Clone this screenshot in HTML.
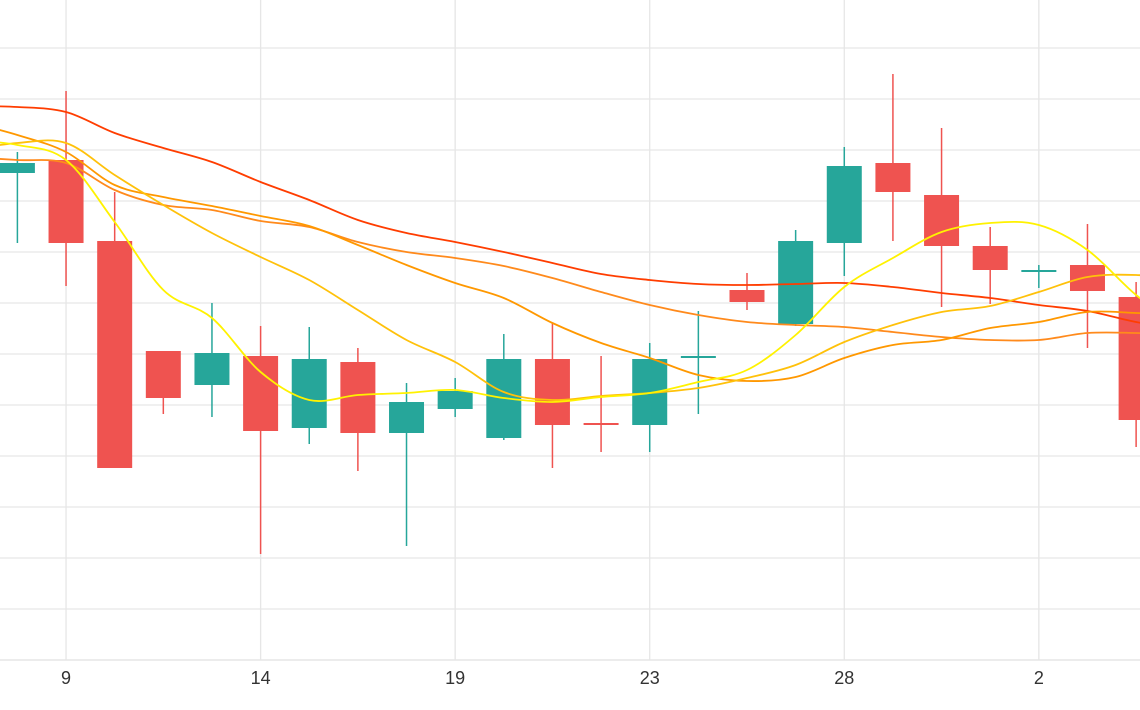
<!DOCTYPE html>
<html><head><meta charset="utf-8">
<style>
html,body{margin:0;padding:0;background:#fff;}
svg{display:block;font-family:"Liberation Sans",sans-serif;}
</style></head>
<body>
<svg id="chart" width="1140" height="710" viewBox="0 0 1140 710">
<g id="grid"></g>
<g id="candles"></g>
<g id="lines"></g>
<g id="xaxis"></g>
</svg>
<script>
const tickIndex = [1, 5, 9, 13, 17, 21];
const tickLabels = ["9", "14", "19", "23", "28", "2"];
const opens  = [48.7,50.0,41.9,30.9,27.5,30.4,23.2,29.8,22.7,25.1,22.2,30.1,23.7,23.5,30.2,37.0,33.6,41.7,49.7,46.5,41.4,38.8,39.5,36.3];
const closes = [49.7,41.7,19.2,26.2,30.7,22.9,30.1,22.7,25.8,26.9,30.1,23.5,23.5,30.1,30.4,35.8,41.9,49.4,46.8,41.4,39.0,39.0,36.9,24.0];
const highs  = [50.8,56.9,46.8,30.9,35.7,33.4,33.3,31.2,27.7,28.2,32.6,33.7,30.4,31.7,34.9,38.7,43.0,51.3,58.6,53.2,43.3,39.5,43.6,37.8];
const lows   = [41.7,37.4,19.2,24.6,24.3,10.6,21.6,18.9,11.4,24.3,22.0,19.2,20.8,20.8,24.6,35.0,33.4,38.4,41.9,35.3,35.6,37.2,31.2,21.3];
const ma5  = [52.0,51.5,50.0,43.8,37.0,34.2,28.8,26.0,26.5,26.7,27.0,26.2,25.8,26.3,26.7,27.8,29.0,32.5,37.3,40.2,42.8,43.7,43.5,41.0,36.5,33.0];
const ma10 = [51.0,51.7,51.7,48.5,45.5,42.7,40.3,38.0,35.0,32.0,29.8,26.8,26.0,26.4,26.7,27.2,28.2,29.5,31.8,33.5,34.8,35.4,36.8,38.3,38.5,38.0];
const ma20 = [53.8,52.5,50.8,47.5,46.3,45.4,44.4,43.4,41.5,39.5,37.7,36.2,33.7,31.7,30.2,28.5,27.9,28.3,30.2,31.5,32.0,33.2,33.8,34.8,34.7,34.5];
const ma30 = [50.3,50.0,49.7,47.0,45.5,45.0,43.9,43.3,41.8,40.8,40.2,39.4,38.2,36.8,35.5,34.5,33.8,33.5,33.3,32.8,32.3,32.0,32.0,32.7,32.7,32.5];
const ma60 = [55.4,55.3,54.8,52.7,51.2,49.8,47.8,46.0,44.0,42.7,41.8,40.8,39.7,38.6,38.0,37.6,37.5,37.6,37.7,37.3,36.7,36.2,35.5,34.9,33.8,33.0];
const gridValues = [0,5.1,10.2,15.3,20.4,25.5,30.6,35.7,40.8,45.9,51,56.1,61.2];

const NS = "http://www.w3.org/2000/svg";
function xs(i){ return 17.4 + 48.64*i; }
function ys(v){ return 660 - v*10; }
function mk(tag, attrs, parent){
  const e = document.createElementNS(NS, tag);
  for (const k in attrs) e.setAttribute(k, attrs[k]);
  parent.appendChild(e); return e;
}
const grid = document.getElementById('grid');
gridValues.forEach((v,k)=>{
  const l = mk('line',{x1:0,x2:1140,y1:ys(v),y2:ys(v),stroke:'#e6e6e6','stroke-width':k===0?1.5:1.3},grid);
  
  
});
const xaxis = document.getElementById('xaxis');
tickIndex.forEach((ti,k)=>{
  const l = mk('line',{x1:xs(ti),x2:xs(ti),y1:0,y2:660,stroke:'#e6e6e6','stroke-width':1.3},grid);
  
  
  const t = mk('text',{x:xs(ti),y:684,'text-anchor':'middle','font-size':18,fill:'#333'},xaxis);
  t.textContent = tickLabels[k];
  
  
});
const cg = document.getElementById('candles');
opens.forEach((o,i)=>{
  const c = closes[i], up = c >= o, col = up ? '#26a69a' : '#ef5350';
  const g = mk('g',{},cg);
  
  
  mk('line',{x1:xs(i),x2:xs(i),y1:ys(highs[i]),y2:ys(lows[i]),stroke:col,'stroke-width':1.5},g);
  const top = ys(Math.max(o,c)), h = Math.max(2, Math.abs(ys(o)-ys(c)));
  mk('rect',{x:xs(i)-17.5,y:top,width:35,height:h,fill:col},g);
});
function path(vals){
  const pts = vals.map((v,k)=>[xs(k-1), ys(v)]);
  let d = 'M'+pts[0][0]+','+pts[0][1];
  for (let k=0;k<pts.length-1;k++){
    const p0=pts[Math.max(0,k-1)], p1=pts[k], p2=pts[k+1], p3=pts[Math.min(pts.length-1,k+2)];
    const c1=[p1[0]+(p2[0]-p0[0])/6, p1[1]+(p2[1]-p0[1])/6];
    const c2=[p2[0]-(p3[0]-p1[0])/6, p2[1]-(p3[1]-p1[1])/6];
    d += ' C'+c1[0]+','+c1[1]+' '+c2[0]+','+c2[1]+' '+p2[0]+','+p2[1];
  }
  return d;
}
const lg = document.getElementById('lines');
const series = [[ma60,'#ff3d00','ma60-line'],[ma30,'#ff8a1c','ma30-line'],[ma20,'#ff9800','ma20-line'],[ma10,'#ffc10a','ma10-line'],[ma5,'#fff200','ma5-line']];
series.forEach(s=>{
  const p = mk('path',{d:path(s[0]),fill:'none',stroke:s[1],'stroke-width':1.8},lg);
  
  
});
</script>
</body></html>
